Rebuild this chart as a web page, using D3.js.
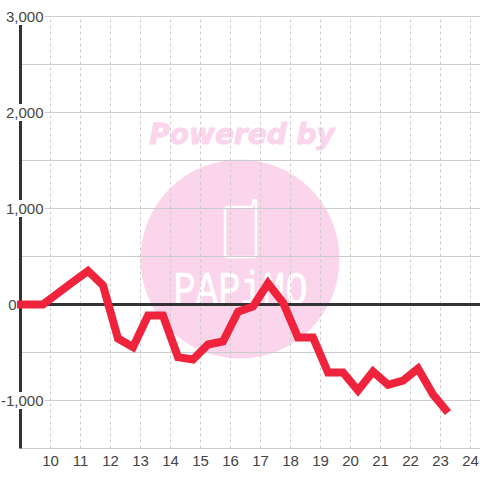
<!DOCTYPE html>
<html>
<head>
<meta charset="utf-8">
<style>
  html, body { margin: 0; padding: 0; background: #fff; }
  svg { display: block; }
  text { font-family: "Liberation Sans", Arial, sans-serif; }
</style>
</head>
<body>
<svg id="chart" width="480" height="480"></svg>
<script src="https://cdn.jsdelivr.net/npm/d3@7"></script>
<script>
// half hour readings, x value is the middle of each half hour
const hours = [8.75, 9.25, 9.75, 10.25, 10.75, 11.25, 11.75, 12.25, 12.75, 13.25, 13.75, 14.25, 14.75, 15.25, 15.75,
  16.25, 16.75, 17.25, 17.75, 18.25, 18.75, 19.25, 19.75, 20.25, 20.75, 21.25, 21.75, 22.25, 22.75, 23.25];
const values = [0, 0, 0, 118, 236, 350, 200, -354, -445, -115, -115, -549, -573, -417, -385,
  -75, -21, 219, 21, -344, -344, -708, -708, -896, -698, -837, -792, -667, -937, -1125];
const xTicks = [10, 11, 12, 13, 14, 15, 16, 17, 18, 19, 20, 21, 22, 23, 24];
const yGrid = [-1500, -1000, -500, 0, 500, 1000, 1500, 2000, 2500, 3000];
const yLabels = [-1000, 0, 1000, 2000, 3000];

const svg = d3.select("#chart");
const x = d3.scaleLinear().domain([9, 24]).range([20.5, 470.5]);
const y = d3.scaleLinear().domain([3000, -1500]).range([16.5, 448.5]);

/* watermark */
const mark = svg.append("g");
mark.append("circle").attr("cx", 240).attr("cy", 259).attr("r", 99.5).attr("fill", "#fbd5ec");
mark.append("text").attr("x", 242).attr("y", 144).attr("text-anchor", "middle")
  .style("font-family", "'DejaVu Sans'").style("font-weight", "bold").style("font-style", "italic")
  .style("font-size", "28px").attr("fill", "#fbd5ec").attr("stroke", "#fbd5ec").attr("stroke-width", 1)
  .text("Powered by");
// phone icon
mark.append("path")
  .attr("d", "M228 207 h22 q3 0 3 -3 v-2 q0 -2 1.5 -2 t1.5 2 v52 q0 3 -3 3 h-25 q-3 0 -3 -3 v-44 q0 -3 3 -3 z")
  .attr("fill", "none").attr("stroke", "#fff").attr("stroke-width", 2.5);
mark.append("text").attr("x", 240.5).attr("y", 304).attr("text-anchor", "middle")
  .attr("textLength", 134).attr("lengthAdjust", "spacingAndGlyphs")
  .style("font-family", "'Liberation Mono'").style("font-size", "47px")
  .attr("fill", "#fff").attr("stroke", "#fff").attr("stroke-width", 0.6).text("PAPiMO");

/* grid */
const gridY = svg.append("g").attr("class", "grid-y")
  .attr("transform", "translate(20.5,0)")
  .call(d3.axisRight(y).offset(0).tickValues(yGrid).tickSize(460).tickFormat(""));
gridY.select(".domain").remove();
gridY.selectAll("line").attr("stroke", "#ccc").attr("stroke-width", 1);

const gridX = svg.append("g").attr("class", "grid-x")
  .attr("transform", "translate(0,448.5)")
  .call(d3.axisBottom(x).offset(0).tickValues(xTicks).tickSize(-432).tickFormat(""));
gridX.select(".domain").remove();
gridX.selectAll("line").attr("stroke", "#ccc").attr("stroke-width", 1).attr("stroke-dasharray", "3,3");

/* axes */
svg.append("line").attr("x1", x(9)).attr("x2", x(9)).attr("y1", y(3000)).attr("y2", y(-1500))
  .attr("stroke", "#333").attr("stroke-width", 3);
svg.append("line").attr("x1", x(9)).attr("x2", 480).attr("y1", y(0)).attr("y2", y(0))
  .attr("stroke", "#333").attr("stroke-width", 3);

/* series */
const line = d3.line().x((d, i) => x(hours[i])).y(d => y(d));
svg.append("path").datum(values)
  .attr("d", line)
  .attr("fill", "none")
  .attr("stroke", "#ef233c")
  .attr("stroke-width", 8)
  .attr("stroke-linejoin", "miter");

/* y labels sit on white boxes that cut the axis and grid */
const yAxis = svg.append("g").attr("class", "y-labels")
  .call(d3.axisLeft(y).offset(0).tickValues(yLabels).tickSize(0)
    .tickFormat(d => d3.format(",")(d).replace("\u2212", "-")));
yAxis.select(".domain").remove();
yAxis.selectAll(".tick").attr("transform", d => `translate(${d === 0 ? 16.5 : 43.5},${y(d)})`);
yAxis.selectAll(".tick text").attr("x", 0).attr("dy", "0.35em")
  .style("font-size", "15px").attr("text-anchor", "end").attr("fill", "#444");
yAxis.selectAll(".tick").insert("rect", "text")
  .attr("x", d => d === 0 ? -16.5 : -43.5)
  .attr("width", d => d === 0 ? 17 : 45)
  .attr("y", -8.5).attr("height", 17)
  .attr("fill", "#fff");

const xAxis = svg.append("g").attr("class", "x-labels")
  .attr("transform", "translate(0,448.5)")
  .call(d3.axisBottom(x).offset(0).tickValues(xTicks).tickSize(0).tickFormat(d3.format("d")));
xAxis.select(".domain").remove();
xAxis.selectAll("text").attr("y", 12).attr("dy", "0.35em")
  .style("font-size", "15px").attr("fill", "#444");
</script>
</body>
</html>
